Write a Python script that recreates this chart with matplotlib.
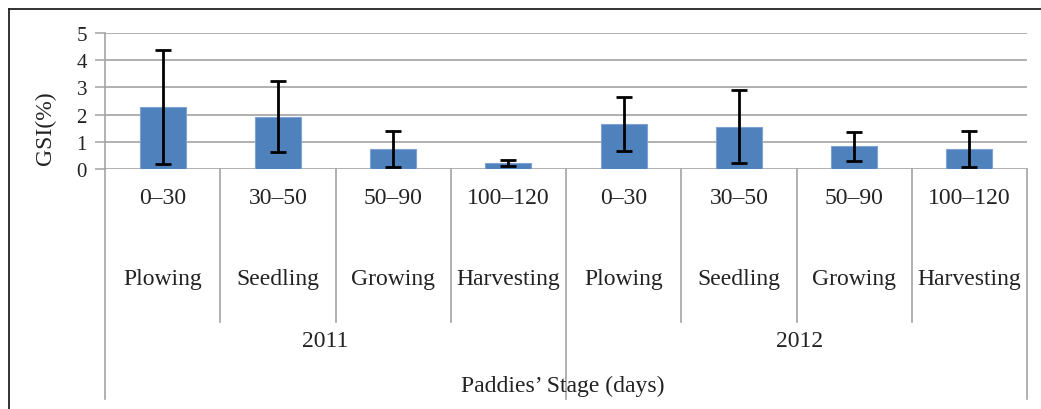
import matplotlib.pyplot as plt
import matplotlib.transforms as mtransforms
from matplotlib.lines import Line2D
import numpy as np

# data
years = ['2011', '2012']
day_ranges = ['0–30', '30–50', '50–90', '100–120'] * 2
stages = ['Plowing', 'Seedling', 'Growing', 'Harvesting'] * 2
gsi_mean = [2.27, 1.92, 0.73, 0.22, 1.66, 1.56, 0.83, 0.73]
gsi_err = [2.09, 1.31, 0.67, 0.10, 1.00, 1.33, 0.52, 0.65]

W, H = 1041, 410
plt.rcParams['font.family'] = ['Liberation Serif', 'DejaVu Serif']
txt_color = '#222222'
grid_color = '#A3A3A3'

fig = plt.figure(figsize=(W / 100, H / 100), dpi=100)
fig.patch.set_facecolor('white')

# plot area in pixels: x 105..1027, y 34..170
ax = fig.add_axes([105 / W, 1 - 170 / H, (1027 - 105) / W, (170 - 34) / H])

x = np.arange(len(gsi_mean))
ax.bar(x, gsi_mean, width=0.4, color='#4F81BD', edgecolor='#7EA3D3',
       linewidth=0.8, zorder=3)
ax.errorbar(x, gsi_mean, yerr=gsi_err, fmt='none', ecolor='black',
            elinewidth=2.0, capsize=6, capthick=2.0, zorder=4)

ax.set_xlim(-0.5, len(x) - 0.5)
ax.set_ylim(0, 5)
ax.set_yticks(range(0, 6))
ax.set_xticks([])
ax.yaxis.grid(True, color=grid_color, linewidth=1.2, zorder=0)
ax.set_axisbelow(True)
for s in ['top', 'right', 'bottom']:
    ax.spines[s].set_visible(False)
ax.spines['left'].set_color(grid_color)
ax.spines['left'].set_linewidth(1.2)
ax.tick_params(axis='y', length=7, width=1.1, color=grid_color, pad=6,
               labelsize=15, labelcolor=txt_color)

fig.text(45 / W, 1 - 128 / H, 'GSI(%)', rotation=90, ha='center', va='center',
         fontsize=17, color=txt_color)

# multi-level category axis
trans = mtransforms.blended_transform_factory(ax.transData, fig.transFigure)
def fy(py):
    return 1 - py / H

for i in range(len(x) + 1):
    xs = i - 0.5
    y_end = 400 if i % 4 == 0 else 323
    fig.add_artist(Line2D([xs, xs], [fy(170), fy(y_end)], transform=trans,
                          color=grid_color, linewidth=1.2))

for i in x:
    fig.text(i, fy(199), day_ranges[i], transform=trans, ha='center',
             va='center', fontsize=17, color=txt_color)
    fig.text(i, fy(280), stages[i], transform=trans, ha='center',
             va='center', fontsize=17, color=txt_color)

for xpos, yr in zip([1.41, 5.53], years):
    fig.text(xpos, fy(342), yr, transform=trans, ha='center', va='center',
             fontsize=17, color=txt_color)

fig.text(3.47, fy(386), 'Paddies’ Stage (days)', transform=trans,
         ha='center', va='center', fontsize=17, color=txt_color)

# outer frame (cropped at right and bottom)
fig.add_artist(Line2D([8.5 / W, 1.0], [fy(10), fy(10)], transform=fig.transFigure,
                      color='#222222', linewidth=1.3))
fig.add_artist(Line2D([8.5 / W, 8.5 / W], [fy(10), 0.0], transform=fig.transFigure,
                      color='#222222', linewidth=1.3))

fig.savefig('out.png', dpi=100)
